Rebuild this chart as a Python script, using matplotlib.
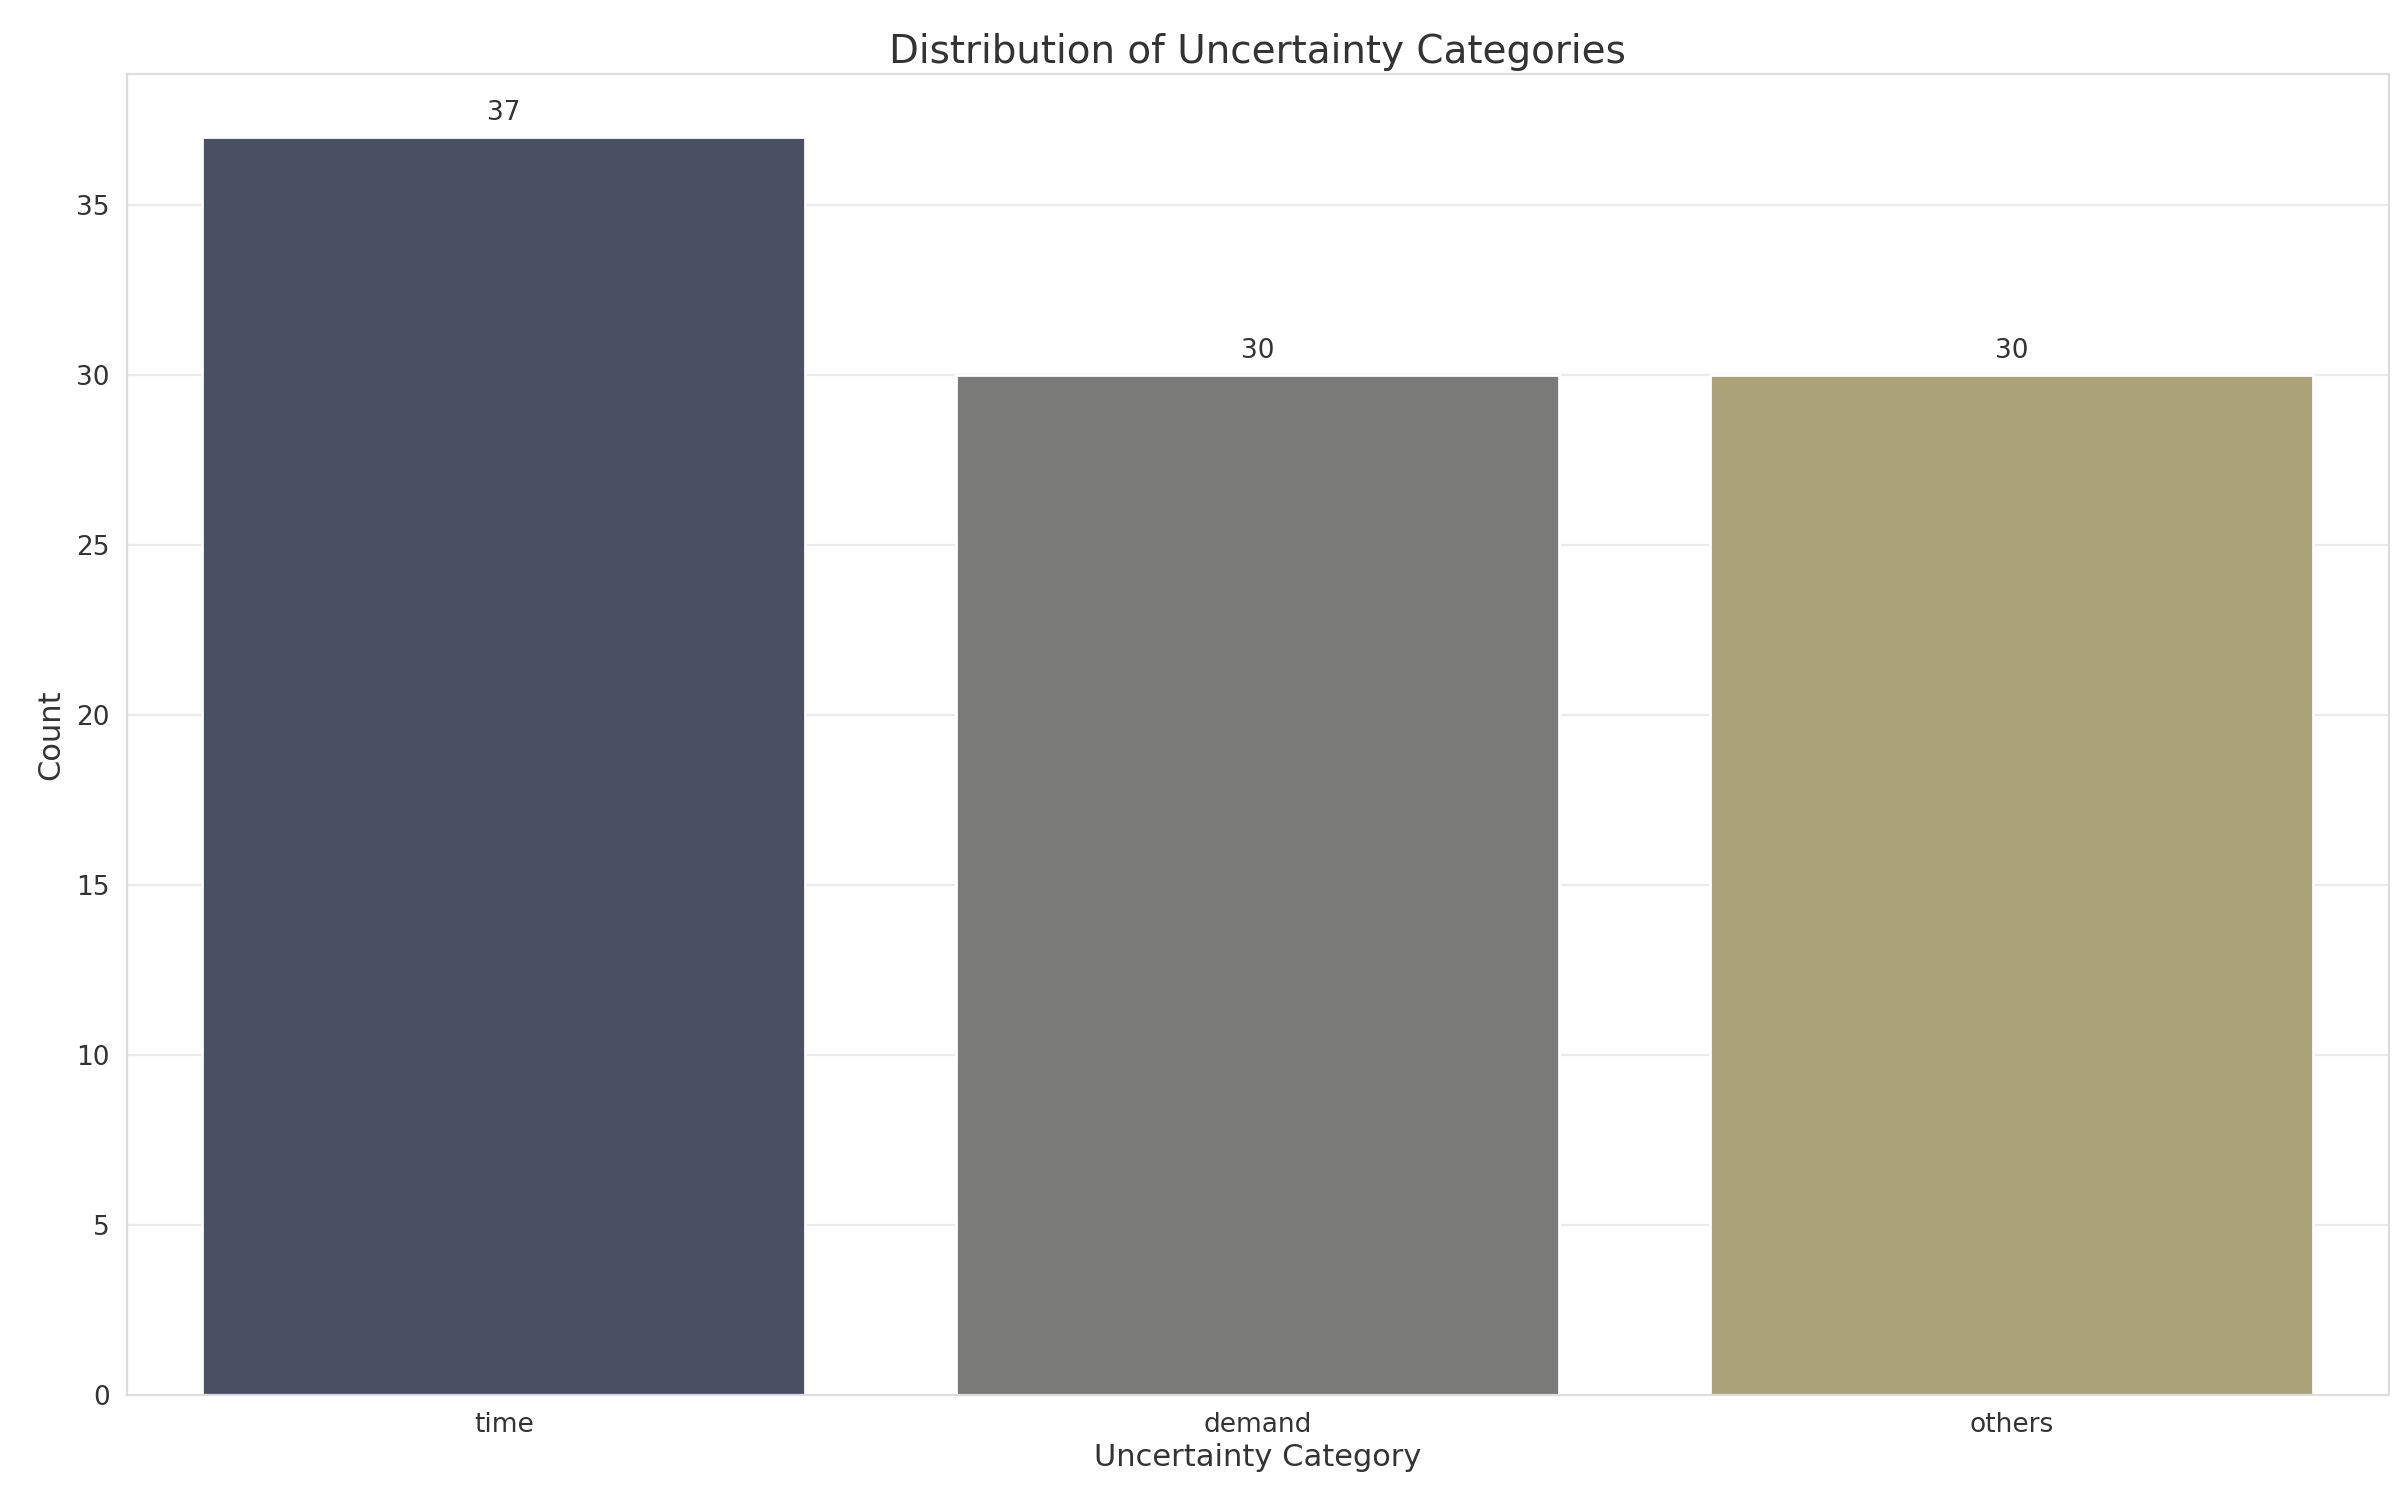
import matplotlib
matplotlib.use("Agg")
import matplotlib.pyplot as plt
import seaborn as sns

categories = ["time", "demand", "others"]
counts = [37, 30, 30]
colors = ["#4a5064", "#7a7a78", "#aba377"]

sns.set_style("whitegrid")
plt.rcParams['font.family'] = ['DejaVu Sans']
fig = plt.figure(figsize=(12.04, 7.55), dpi=200)
ax = fig.add_axes([0.0526, 0.0761, 0.9394, 0.8749])
bars = ax.bar(categories, counts, width=0.8, color=colors)
ax.set_xlim(-0.5, 2.5)
ax.set_ylim(0, 37 * 1.05)
for b, v in zip(bars, counts):
    ax.annotate(str(v), (b.get_x() + b.get_width() / 2, v), xytext=(0, 4),
                textcoords="offset points", ha="center", va="bottom",
                fontsize=9.5, color="#333333")
ax.set_title("Distribution of Uncertainty Categories", fontsize=14, color="#333333", pad=4)
ax.set_xlabel("Uncertainty Category", fontsize=11, color="#333333", labelpad=2)
ax.set_ylabel("Count", fontsize=11, color="#333333")
ax.tick_params(labelsize=9.5, colors="#333333", length=0, pad=6)
ax.grid(axis="x", visible=False)
ax.grid(axis="y", color="#ebebeb")
for s in ax.spines.values():
    s.set_color("#dddddd")
ax.set_axisbelow(True)
fig.savefig("out.png", dpi=200)
